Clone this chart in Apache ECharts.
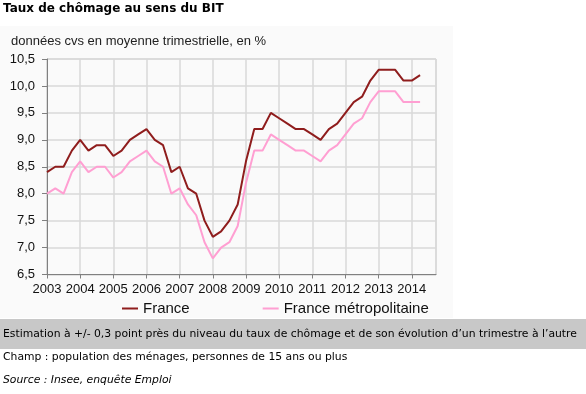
<!DOCTYPE html>
<html><head><meta charset="utf-8">
<script src="https://cdn.jsdelivr.net/npm/echarts@6/dist/echarts.min.js"></script>
<style>html,body{margin:0;padding:0;background:#fff}#c{width:586px;height:394px}</style>
</head><body><div id="c"></div>
<script>
const years = [2003,2004,2005,2006,2007,2008,2009,2010,2011,2012,2013,2014];
const quarters = ['T1','T2','T3','T4'];
const france = [
  8.4,8.5,8.5,8.8, 9.0,8.8,8.9,8.9, 8.7,8.8,9.0,9.1, 9.2,9.0,8.9,8.4,
  8.5,8.1,8.0,7.5, 7.2,7.3,7.5,7.8, 8.6,9.2,9.2,9.5, 9.4,9.3,9.2,9.2,
  9.1,9.0,9.2,9.3, 9.5,9.7,9.8,10.1, 10.3,10.3,10.3,10.1, 10.1,10.2
];
const metro = [
  8.0,8.1,8.0,8.4, 8.6,8.4,8.5,8.5, 8.3,8.4,8.6,8.7, 8.8,8.6,8.5,8.0,
  8.1,7.8,7.6,7.1, 6.8,7.0,7.1,7.4, 8.2,8.8,8.8,9.1, 9.0,8.9,8.8,8.8,
  8.7,8.6,8.8,8.9, 9.1,9.3,9.4,9.7, 9.9,9.9,9.9,9.7, 9.7,9.7
];
const yTicks = ['6,5','7,0','7,5','8,0','8,5','9,0','9,5','10,0','10,5'];
const seriesNames = ['France','France métropolitaine'];

function toPoints(vals){
  const pts = [];
  vals.forEach((v,i)=>{
    const y = years[Math.floor(i/4)];
    pts.push([y + (i%4)/4, v]);
  });
  return pts;
}

const chart = echarts.init(document.getElementById('c'), null, {renderer:'canvas'});
const F = 'Liberation Sans, Arial, sans-serif';
const V = '"DejaVu Sans", Verdana, sans-serif';
chart.setOption({
  animation:false,
  backgroundColor:'#ffffff',
  graphic:[
    {type:'rect', z:-10, shape:{x:0,y:26,width:453,height:292}, style:{fill:'#fafafa'}},
    {type:'rect', shape:{x:0,y:319,width:586,height:30}, style:{fill:'#c8c8c8'}},
    {type:'text', left:3, top:3, style:{text:'Taux de chômage au sens du BIT', font:'bold 12px '+V, fill:'#000'}},
    {type:'text', left:11, top:35, style:{text:'données cvs en moyenne trimestrielle, en %', font:'13px '+F, fill:'#222'}},
    {type:'text', left:3, top:329, style:{text:'Estimation à +/- 0,3 point près du niveau du taux de chômage et de son évolution d’un trimestre à l’autre', font:'10.8px '+V, fill:'#000'}},
    {type:'text', left:3, top:352, style:{text:'Champ : population des ménages, personnes de 15 ans ou plus', font:'10.8px '+V, fill:'#000'}},
    {type:'text', left:3, top:375, style:{text:'Source : Insee, enquête Emploi', font:'italic 10.8px '+V, fill:'#000'}}
  ],
  legend:{
    data:seriesNames, left:117, top:296, itemWidth:16, itemHeight:2, itemGap:73,
    icon:'rect',
    textStyle:{fontFamily:F, fontSize:15, color:'#111', padding:[0,0,0,0]},
  },
  grid:{left:47, right:150, top:59, bottom:119.5, show:true, borderColor:'#c8c8c8', borderWidth:1, backgroundColor:'transparent'},
  xAxis:{
    type:'value', min:2003, max:2014.73, interval:1,
    axisLine:{lineStyle:{color:'#808080', width:1}},
    axisTick:{show:true, length:4, lineStyle:{color:'#808080'}},
    axisLabel:{fontFamily:F, fontSize:13, color:'#111', margin:8,
      formatter:v=> Number.isInteger(v) ? String(v) : '', showMaxLabel:false},
    splitLine:{show:true, lineStyle:{color:'#d8d8d8', width:1.5}}
  },
  yAxis:{
    type:'value', min:6.5, max:10.5, interval:0.5,
    axisLine:{show:true, lineStyle:{color:'#808080', width:1}},
    axisTick:{show:true, length:5, lineStyle:{color:'#808080'}},
    axisLabel:{fontFamily:F, fontSize:13, color:'#111', margin:12,
      formatter:v=> yTicks[Math.round((v-6.5)/0.5)]},
    splitLine:{show:true, lineStyle:{color:'#d8d8d8', width:1.5}}
  },
  series:[
    {name:seriesNames[0], type:'line', data:toPoints(france), symbol:'none', lineStyle:{color:'#8f1d1d', width:2}, itemStyle:{color:'#8f1d1d'}, z:3},
    {name:seriesNames[1], type:'line', data:toPoints(metro), symbol:'none', lineStyle:{color:'#ff9fd2', width:2}, itemStyle:{color:'#ff9fd2'}, z:2}
  ]
});
</script></body></html>
